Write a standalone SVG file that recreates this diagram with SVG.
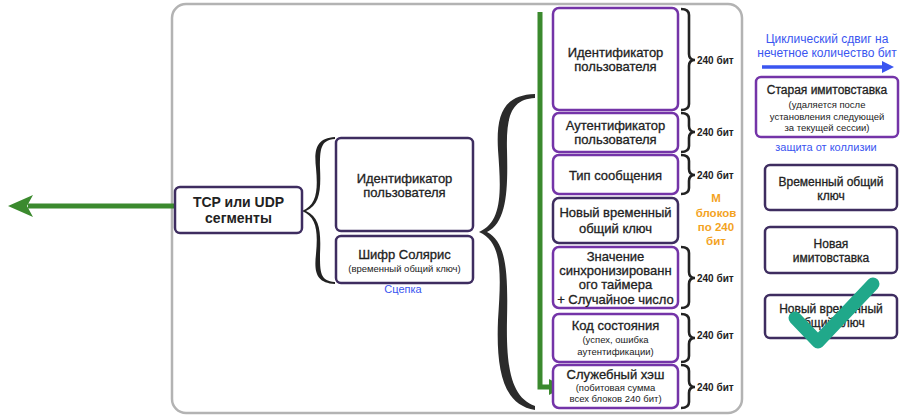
<svg xmlns="http://www.w3.org/2000/svg" width="908" height="416" viewBox="0 0 908 416">
<style>
text{font-family:"Liberation Sans",Arial,sans-serif;fill:#222;text-anchor:middle}
.t{font-size:13px;stroke:#222;stroke-width:0.3}
.s{font-size:9.5px}
.b{font-weight:bold}
.box{fill:#fff;stroke:#7434a8;stroke-width:2.5}
.dk{fill:#fff;stroke:#3e2d60;stroke-width:2.5}
.br{fill:none;stroke:#222;stroke-width:2.6}
.lbl{font-size:10px;font-weight:bold;text-anchor:start}
.blue{fill:#3a55f0}
.or{fill:#f3a31f}
.gr{stroke:#3b8a2e;stroke-width:5;fill:none}
.m{font-size:12px;stroke:#222;stroke-width:0.3}
</style>
<rect x="172" y="4" width="570" height="409" rx="14" fill="#fff" stroke="#b3b3b3" stroke-width="2.5"/>

<g id="connectors">
  <path class="gr" d="M175,206 L28,206"/>
  <polygon points="8,206 33,195 27,206 33,217" fill="#3b8a2e"/>
  <path class="gr" d="M540,12 L540,387 L552,387"/>
  <polygon points="549,379 564,387 549,395" fill="#3b8a2e"/>
  <path d="M335,137 C316,138 314,150 316,168 C318,190 317,205 302,211 C317,217 318,232 316,254 C314,272 316,283 335,284 L335,282 C320,281 320,272 320,254 C321,232 320,217 306,211 C320,205 321,190 320,168 C320,150 320,140 335,139 Z" fill="#222"/>
  <path d="M535,94 C503,95 496,115 498,150 C501,190 503,222 479,232 C503,242 501,275 498,320 C496,370 503,405 535,410 L535,406 C512,398 506,370 507,320 C508,275 507,242 487,232 C507,222 508,190 507,150 C506,115 512,99 535,98 Z" fill="#2b2b2b"/>
  <path class="br" d="M681,9 Q689,9 689,15 L689,54 Q689,60 695,60 Q689,60 689,66 L689,104 Q689,110 681,110"/>
  <path class="br" d="M681,113 Q689,113 689,119 L689,126 Q689,132 695,132 Q689,132 689,138 L689,146 Q689,152 681,152"/>
  <path class="br" d="M681,155 Q689,155 689,161 L689,169 Q689,175 695,175 Q689,175 689,181 L689,188 Q689,194 681,194"/>
  <path class="br" d="M681,247 Q689,247 689,253 L689,272 Q689,278 695,278 Q689,278 689,284 L689,302 Q689,308 681,308"/>
  <path class="br" d="M681,314 Q689,314 689,320 L689,332 Q689,338 695,338 Q689,338 689,344 L689,356 Q689,362 681,362"/>
  <path class="br" d="M681,365 Q689,365 689,371 L689,381 Q689,387 695,387 Q689,387 689,393 L689,402 Q689,408 681,408"/>
  <path d="M762,67 L884,67" stroke="#3a55f0" stroke-width="3.5" fill="none"/>
  <polygon points="882,61 894,67 882,73" fill="#3a55f0"/>
</g>

<g id="tcp">
  <rect class="dk" x="175" y="187" width="127" height="46" rx="5"/>
  <text class="b" font-size="14" x="238.5" y="207">TCP или UDP</text>
  <text class="b" font-size="14" x="238.5" y="223">сегменты</text>
</g>
<g id="mid-id">
  <rect class="dk" x="336" y="138" width="137" height="93" rx="5"/>
  <text class="t" x="404.5" y="183">Идентификатор</text>
  <text class="t" x="404.5" y="197">пользователя</text>
</g>
<g id="mid-cipher">
  <rect class="dk" x="336" y="236" width="137" height="47" rx="5"/>
  <text class="t" x="404.5" y="259">Шифр Солярис</text>
  <text class="s" x="404.5" y="272">(временный общий ключ)</text>
  <text class="blue" font-size="11" x="403" y="293">Сцепка</text>
</g>

<g id="r1">
  <rect class="box" x="553" y="8" width="125" height="102" rx="6"/>
  <text class="t" x="615.5" y="57">Идентификатор</text>
  <text class="t" x="615.5" y="71">пользователя</text>
  <text class="lbl" x="697" y="64">240 бит</text>
</g>
<g id="r2">
  <rect class="box" x="553" y="113" width="125" height="39" rx="6"/>
  <text class="t" x="615.5" y="130">Аутентификатор</text>
  <text class="t" x="615.5" y="144">пользователя</text>
  <text class="lbl" x="697" y="136">240 бит</text>
</g>
<g id="r3">
  <rect class="box" x="553" y="155" width="125" height="39" rx="6"/>
  <text class="t" x="615.5" y="180">Тип сообщения</text>
  <text class="lbl" x="697" y="179">240 бит</text>
</g>
<g id="r4">
  <rect class="dk" x="553" y="198" width="125" height="45" rx="6"/>
  <text class="t" x="615.5" y="217">Новый временный</text>
  <text class="t" x="615.5" y="233">общий ключ</text>
  <text class="or b" font-size="11.5" x="716" y="202">М</text>
  <text class="or b" font-size="11.5" x="716" y="217">блоков</text>
  <text class="or b" font-size="11.5" x="716" y="231">по 240</text>
  <text class="or b" font-size="11.5" x="716" y="245">бит</text>
</g>
<g id="r5">
  <rect class="box" x="553" y="247" width="125" height="61" rx="6"/>
  <text class="t" x="615.5" y="261">Значение</text>
  <text class="t" x="615.5" y="275">синхронизированн</text>
  <text class="t" x="615.5" y="289">ого таймера</text>
  <text class="t" x="615.5" y="304">+ Случайное число</text>
  <text class="lbl" x="697" y="282">240 бит</text>
</g>
<g id="r6">
  <rect class="box" x="553" y="314" width="125" height="48" rx="6"/>
  <text class="t" x="615.5" y="330">Код состояния</text>
  <text class="s" x="615.5" y="343">(успех, ошибка</text>
  <text class="s" x="615.5" y="355">аутентификации)</text>
  <text class="lbl" x="697" y="339">240 бит</text>
</g>
<g id="r7">
  <rect class="box" x="553" y="365" width="125" height="43" rx="6"/>
  <text class="t" x="615.5" y="379">Служебный хэш</text>
  <text class="s" x="615.5" y="391">(побитовая сумма</text>
  <text class="s" x="615.5" y="402">всех блоков 240 бит)</text>
  <text class="lbl" x="697" y="391">240 бит</text>
</g>

<g id="shift-label">
  <text class="blue" font-size="12" x="827" y="43">Циклический сдвиг на</text>
  <text class="blue" font-size="12" x="827" y="57">нечетное количество бит</text>
</g>
<g id="old-mac">
  <rect class="box" x="756" y="77" width="142" height="60" rx="5"/>
  <text class="m" x="827" y="94">Старая имитовставка</text>
  <text class="s" x="827" y="108">(удаляется после</text>
  <text class="s" x="827" y="120">установления следующей</text>
  <text class="s" x="827" y="131">за текущей сессии)</text>
  <text class="blue" font-size="11" x="826" y="151">защита от коллизии</text>
</g>
<g id="temp-key">
  <rect class="dk" x="765" y="165" width="132" height="45" rx="5"/>
  <text class="m" x="831" y="186">Временный общий</text>
  <text class="m" x="831" y="200">ключ</text>
</g>
<g id="new-mac">
  <rect class="dk" x="765" y="227" width="132" height="46" rx="5"/>
  <text class="m" x="831" y="248">Новая</text>
  <text class="m" x="831" y="262">имитовставка</text>
</g>
<g id="new-key">
  <rect class="dk" x="765" y="295" width="132" height="43" rx="5"/>
  <text class="m" x="831" y="313">Новый временный</text>
  <text class="m" x="831" y="327">общий ключ</text>
</g>
<g id="check">
  <path d="M795,318 L818,342 L873,284" fill="none" stroke="#20a88a" stroke-width="13" stroke-linecap="round" stroke-linejoin="round"/>
</g>
</svg>
